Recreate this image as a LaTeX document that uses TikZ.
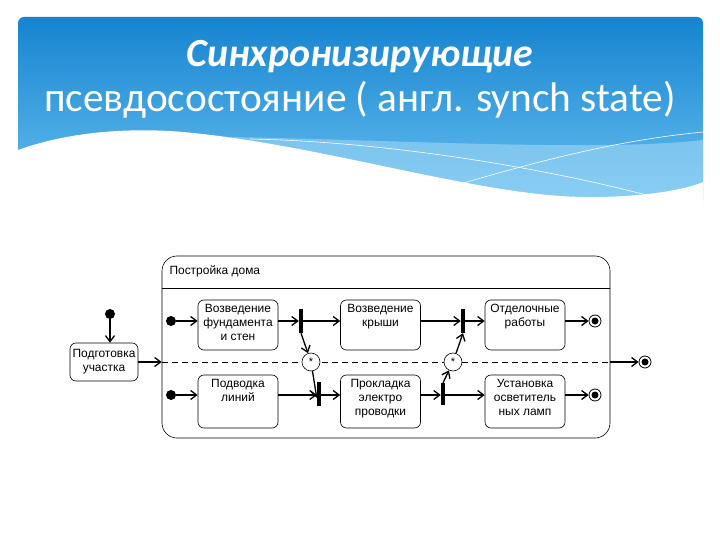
\documentclass[tikz,border=0pt]{standalone}
\usepackage{fontspec}
\setmainfont{Carlito}
\newfontfamily\umlfont{Liberation Sans}
\definecolor{bannertop}{RGB}{22, 132, 208}
\definecolor{bannerlow}{RGB}{105, 192, 240}
\definecolor{bannerband}{RGB}{165, 218, 247}
\usetikzlibrary{
    arrows.meta,
    positioning,
    calc
}
\tikzset{
    state/.style={draw, rounded corners=6bp, inner sep=4bp, line width=0.6bp,
        font=\umlfont\fontsize{12}{14}\selectfont,
        execute at begin node={\begin{minipage}[c][#1][t]{72bp}\centering},
        execute at end node={\end{minipage}}},
    prepstate/.style={draw, rounded corners=6bp, line width=0.6bp, align=center,
        minimum width=68bp, minimum height=38bp, inner sep=1bp,
        font=\umlfont\fontsize{12}{14}\selectfont},
    flow/.style={-{Straight Barb[length=6bp, width=9bp]}, line width=1.3bp},
    syncbar/.style={fill=black, inner sep=0, minimum width=4bp, minimum height=#1},
    initstate/.style={circle, fill=black, inner sep=0, minimum size=10bp},
    finalstate/.style={circle, draw, line width=0.8bp, inner sep=0, minimum size=12bp,
        path picture={\fill (path picture bounding box.center) circle (3.5bp);}},
    synchstate/.style={circle, draw, fill=white, line width=0.6bp, inner sep=0,
        minimum size=18bp, font=\umlfont\fontsize{11}{11}\selectfont}
}
\begin{document}
\begin{tikzpicture}[x=1bp, y=-1bp]
    \useasboundingbox (0,0) rectangle (720,540);

    % Title banner
    \shade[top color=bannertop, bottom color=bannerlow, rounded corners=6bp]
        (18,205) -- (18,17) -- (703,17) -- (703,205) -- cycle;
    \fill[bannerband, opacity=0.55]
        (230,137) .. controls (400,140) and (600,152) .. (703,140)
        -- (703,206) -- (230,206) -- cycle;
    \fill[white]
        (18,150) .. controls (60,135) and (110,128) .. (170,131)
        .. controls (300,140) and (450,188) .. (560,196)
        .. controls (620,200) and (680,192) .. (703,182)
        -- (703,206) -- (17,206) -- cycle;
    \draw[white, line width=0.6bp]
        (250,139) .. controls (400,142) and (560,172) .. (650,196);
    \draw[white, line width=0.6bp]
        (440,190) .. controls (540,160) and (620,140) .. (703,132);

    % Title text
    \node[font=\fontsize{40}{48}\selectfont\bfseries\itshape, text=white, anchor=base]
        (title1) at (360,67) {Синхронизирующие};
    \node[font=\fontsize{41.5}{48}\selectfont, text=white, anchor=base]
        (title2) at (360,112) {псевдосостояние ( англ. synch state)};

    % Composite state
    \node[draw, rounded corners=15bp, line width=0.6bp, minimum width=448bp,
        minimum height=182bp, inner sep=0] (house) at (386,347) {};
    \draw[line width=0.6bp] (house.west |- 0,288) -- (house.east |- 0,288);
    \node[anchor=west, font=\umlfont\fontsize{12}{14}\selectfont] (houselabel) at (166,271) {Постройка дома};
    \draw[dashed, dash pattern=on 6bp off 4bp, line width=0.8bp]
        (house.west |- 0,362) -- (house.east |- 0,362);

    % Outer flow
    \node[initstate] (i0) at (110,314) {};
    \node[prepstate] (prep) at (104,362) {Подготовка\\участка};
    \node[finalstate] (f0) at (645,362) {};
    \draw[flow] (i0) -- (prep.north -| i0);
    \draw[flow] (prep.east) -- (prep.east -| house.west);
    \draw[flow] (house.east |- f0) -- (f0);

    % Upper region
    \coordinate (toplane) at (0,321);
    \node[initstate] (i1) at (171,321) {};
    \node[state=42bp] (fund) at (238,325) {Возведение\\фундамента\\и стен};
    \node[syncbar=24bp] (fork1) at (301,321) {};
    \node[state=42bp] (roof) at (380.5,325) {Возведение\\крыши};
    \node[syncbar=24bp] (join2) at (463,321) {};
    \node[state=42bp] (finish) at (525,325) {Отделочные\\работы};
    \node[finalstate] (f1) at (595,321) {};
    \draw[flow] (i1) -- (fund.west |- toplane);
    \draw[flow] (fund.east |- toplane) -- (fork1.west |- toplane);
    \draw[flow] (fork1.east |- toplane) -- (roof.west |- toplane);
    \draw[flow] (roof.east |- toplane) -- (join2.west |- toplane);
    \draw[flow] (join2.east |- toplane) -- (finish.west |- toplane);
    \draw[flow] (finish.east |- toplane) -- (f1);

    % Lower region
    \coordinate (lowlane) at (0,395);
    \node[initstate] (i2) at (171,395) {};
    \node[state=45bp] (lines) at (238,401.5) {Подводка\\линий};
    \node[syncbar=24bp] (join1) at (319,394) {};
    \node[state=45bp] (wiring) at (380.5,401.5) {Прокладка\\электро\\проводки};
    \node[syncbar=22bp] (fork2) at (443,394) {};
    \node[state=45bp] (lamps) at (525,401.5) {Установка\\осветитель\\ных ламп};
    \node[finalstate] (f2) at (595,395) {};
    \draw[flow] (i2) -- (lines.west |- lowlane);
    \draw[flow] (lines.east |- lowlane) -- (join1.west |- lowlane);
    \draw[flow] (join1.east |- lowlane) -- (wiring.west |- lowlane);
    \draw[flow] (wiring.east |- lowlane) -- (fork2.west |- lowlane);
    \draw[flow] (fork2.east |- lowlane) -- (lamps.west |- lowlane);
    \draw[flow] (lamps.east |- lowlane) -- (f2);

    % Synch states
    \node[synchstate] (s1) at (311,362) {*};
    \node[synchstate] (s2) at (453,362) {*};
    \draw[flow] (fork1.south) -- (s1);
    \draw[flow] (s1) -- ([yshift=-4bp]join1.west);
    \draw[flow] (fork2.north) -- (s2);
    \draw[flow] (s2) -- (join2.south);
\end{tikzpicture}
\end{document}
